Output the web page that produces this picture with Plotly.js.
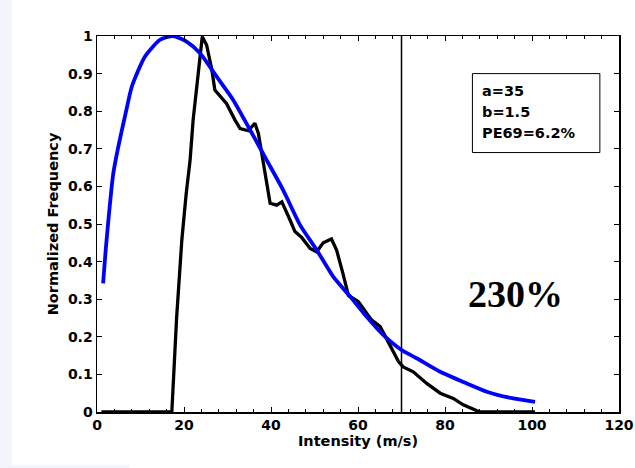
<!DOCTYPE html>
<html>
<head>
<meta charset="utf-8">
<script src="https://cdn.plot.ly/plotly-3.0.1.min.js"></script>
<style>html,body{margin:0;padding:0;background:#fff;}#chart{width:635px;height:468px;}</style>
</head>
<body>
<div id="chart"></div>
<script>
// Observed normalized frequency (black)
var obsX = [1, 17.2, 18.3, 19.5, 20.5, 21.4, 22.1, 23, 23.7, 24.2, 25.2, 26.4, 27.1, 28.3, 29.8, 31.7, 32.9, 34.8, 36.3, 37.1, 38.2, 39.8, 41.3, 42.5, 44.4, 45.5, 47, 49, 50.5, 52, 53.9, 55.1, 56.5, 57.8, 60.1, 63.1, 65.1, 67.4, 69.3, 70.4, 72.7, 75.8, 78.9, 81.9, 84.2, 88, 100.7];
var obsY = [0, 0, 0.25, 0.457, 0.58, 0.67, 0.777, 0.87, 0.954, 0.998, 0.976, 0.91, 0.856, 0.839, 0.82, 0.777, 0.754, 0.748, 0.768, 0.741, 0.67, 0.555, 0.55, 0.559, 0.51, 0.48, 0.465, 0.435, 0.426, 0.45, 0.46, 0.43, 0.37, 0.31, 0.293, 0.245, 0.227, 0.174, 0.134, 0.12, 0.107, 0.076, 0.05, 0.036, 0.019, 0, 0];
// Fitted curve (blue)
var fitX = [1.4, 2.2, 3.75, 4.9, 6.5, 8, 11, 14.5, 17.5, 20.6, 23.7, 27.5, 31.3, 35.2, 39, 42.8, 46.7, 50.5, 54.3, 58.2, 62, 65.8, 70, 73.5, 78.9, 85, 89.6, 95.7, 100.7];
var fitY = [0.342, 0.457, 0.635, 0.706, 0.79, 0.865, 0.945, 0.99, 1.0, 0.985, 0.954, 0.892, 0.83, 0.75, 0.67, 0.59, 0.497, 0.431, 0.36, 0.307, 0.253, 0.205, 0.165, 0.143, 0.107, 0.076, 0.054, 0.036, 0.027];
// Threshold line
var threshX = [70, 70];
var threshY = [0, 1];
var xTickVals = [0, 20, 40, 60, 80, 100, 120];
var yTickVals = [0, 0.1, 0.2, 0.3, 0.4, 0.5, 0.6, 0.7, 0.8, 0.9, 1];
var infoLines = ["a=35", "b=1.5", "PE69=6.2%"];
var bigLabel = "230%";

var sans = "DejaVu Sans, Liberation Sans, Arial, sans-serif";
var traces = [
  {x: threshX, y: threshY, mode: "lines", line: {color: "#000", width: 1.5}, hoverinfo: "skip"},
  {x: obsX, y: obsY, mode: "lines", line: {color: "#000", width: 3.3}},
  {x: fitX, y: fitY, mode: "lines", line: {color: "#0000ff", width: 3.8, shape: "spline", smoothing: 0.6}}
];
var infoY = [0.855, 0.797, 0.741];
var annotations = infoLines.map(function (t, i) {
  return {x: 88.05, y: infoY[i], xref: "x", yref: "y", text: "<b>" + t + "</b>", showarrow: false,
    xanchor: "left", yanchor: "middle", font: {family: sans, size: 14.5, color: "#000"}};
});
annotations.push({x: 96.1, y: 0.314, xref: "x", yref: "y", text: "<b>" + bigLabel + "</b>", showarrow: false,
  xanchor: "center", yanchor: "middle", font: {family: "Liberation Serif, Times New Roman, serif", size: 38, color: "#000"}});

var layout = {
  width: 635, height: 468,
  margin: {l: 97, r: 16, t: 36, b: 56},
  paper_bgcolor: "#ffffff", plot_bgcolor: "#ffffff",
  showlegend: false,
  font: {family: sans, size: 14, color: "#000"},
  xaxis: {
    range: [0, 120], tickvals: xTickVals, ticks: "inside", ticklen: 5, tickwidth: 1, tickcolor: "#000",
    minor: {dtick: 4, tick0: 0, ticks: "inside", ticklen: 3, tickwidth: 1, tickcolor: "#000"},
    showline: true, linecolor: "#000", linewidth: 1.5, mirror: "allticks",
    showgrid: false, zeroline: false,
    tickfont: {family: sans, size: 14, weight: "bold", color: "#000"},
    title: {text: "<b>Intensity (m/s)</b>", font: {family: sans, size: 14.5, color: "#000"}, standoff: 1}
  },
  yaxis: {
    range: [0, 1], tickvals: yTickVals, ticks: "inside", ticklen: 5, tickwidth: 1, tickcolor: "#000",
    showline: true, linecolor: "#000", linewidth: 1.5, mirror: "allticks",
    showgrid: false, zeroline: false,
    tickfont: {family: sans, size: 14, weight: "bold", color: "#000"},
    title: {text: "<b>Normalized Frequency</b>", font: {family: sans, size: 14.5, color: "#000"}, standoff: 6}
  },
  shapes: [
    {type: "rect", xref: "x", yref: "y", x0: 86.3, x1: 115.6, y0: 0.69, y1: 0.90, line: {color: "#000", width: 1}, fillcolor: "rgba(0,0,0,0)"},
    {type: "rect", xref: "paper", yref: "paper", x0: -0.1858, x1: -0.1628, y0: -0.149, y1: 1.096, line: {width: 0}, fillcolor: "#f2f6fc", layer: "below"},
    {type: "rect", xref: "paper", yref: "paper", x0: -0.1858, x1: 0.063, y0: -0.149, y1: -0.141, line: {width: 0}, fillcolor: "#f2f6fc", layer: "below"}
  ],
  annotations: annotations
};
Plotly.newPlot("chart", traces, layout, {staticPlot: true, displayModeBar: false});
</script>
</body>
</html>
